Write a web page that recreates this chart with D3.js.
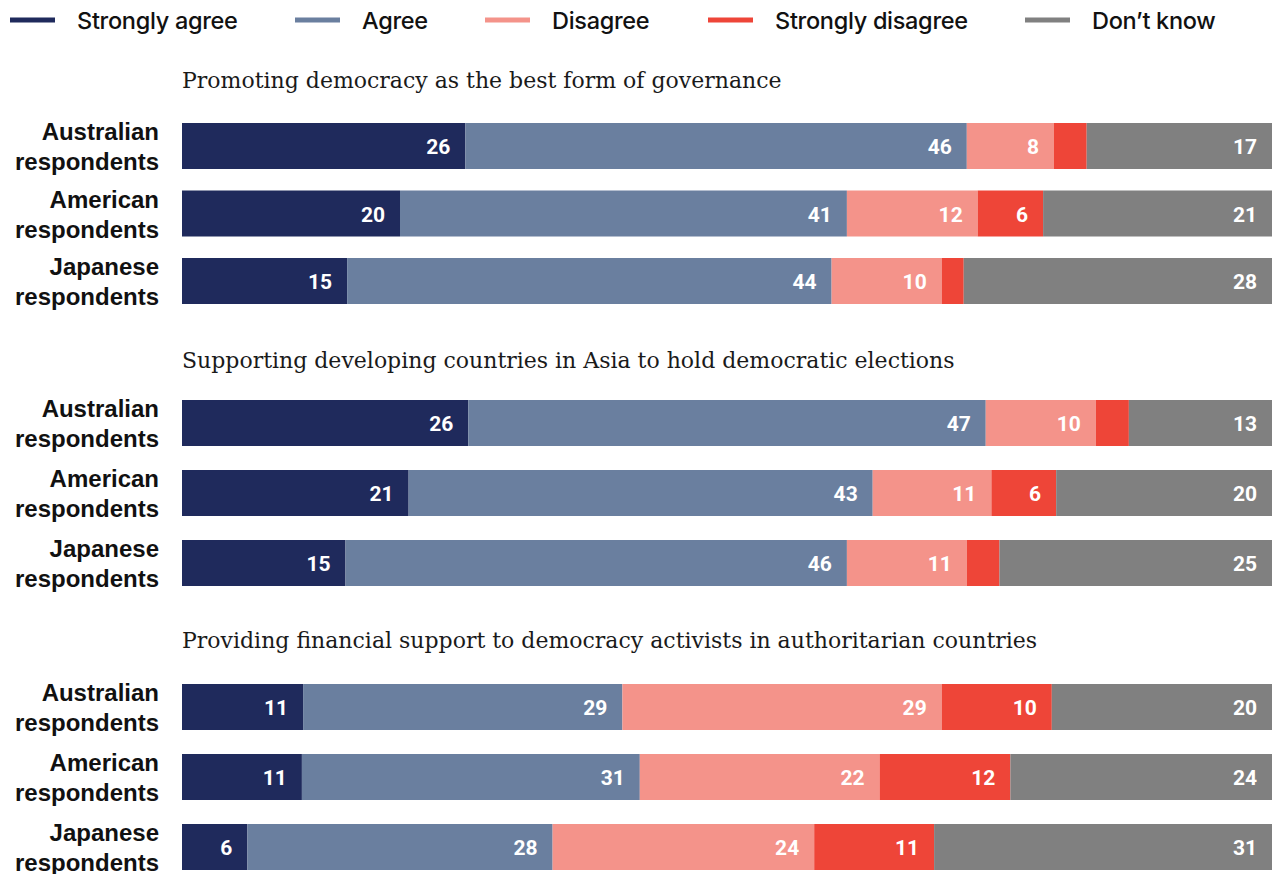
<!DOCTYPE html>
<html>
<head>
<meta charset="utf-8">
<script src="https://cdn.jsdelivr.net/npm/d3@7"></script>
<style>
  html, body { margin: 0; padding: 0; background: #ffffff; }
  svg { display: block; }
</style>
</head>
<body>
<svg id="chart" width="1279" height="874"></svg>
<script>
// ---- Data ----
const categories = ["Strongly agree", "Agree", "Disagree", "Strongly disagree", "Don\u2019t know"];
const seriesKeys = ["sa", "a", "d", "sd", "dk"];
const colors = ["#1f2a5c", "#6a7f9f", "#f4938a", "#ee4538", "#808080"];
const respondents = ["Australian respondents", "American respondents", "Japanese respondents"];
const panelTitles = [
  "Promoting democracy as the best form of governance",
  "Supporting developing countries in Asia to hold democratic elections",
  "Providing financial support to democracy activists in authoritarian countries"
];
// values per panel, per respondent group: [Strongly agree, Agree, Disagree, Strongly disagree, Don't know]
const panel1Values = [
  [26, 46, 8, 3, 17],
  [20, 41, 12, 6, 21],
  [15, 44, 10, 2, 28]
];
const panel2Values = [
  [26, 47, 10, 3, 13],
  [21, 43, 11, 6, 20],
  [15, 46, 11, 3, 25]
];
const panel3Values = [
  [11, 29, 29, 10, 20],
  [11, 31, 22, 12, 24],
  [6, 28, 24, 11, 31]
];
const panelValues = [panel1Values, panel2Values, panel3Values];
const minLabelValue = 5;

// ---- Layout ----
const svg = d3.select("#chart");
const x = d3.scaleLinear().domain([0, 1]).range([182, 1272]);
const color = d3.scaleOrdinal().domain(seriesKeys).range(colors);
const panelLayout = [
  { titleY: 88, y0: 123, y1: 304 },
  { titleY: 368, y0: 400, y1: 586 },
  { titleY: 648, y0: 684, y1: 870 }
];
const barH = 46;

// ---- Legend ----
const legendX = [10, 295, 485, 708, 1025];
const legend = svg.append("g");
categories.forEach((c, i) => {
  const g = legend.append("g").attr("transform", `translate(${legendX[i]},20)`);
  g.append("line").attr("x1", 0).attr("x2", 45).attr("y1", 0).attr("y2", 0)
    .attr("stroke", colors[i]).attr("stroke-width", 5);
  g.append("text").attr("x", 67).attr("y", 9)
    .attr("font-family", "Inter, Roboto, sans-serif")
    .attr("font-weight", 500).attr("font-size", 23.5).attr("fill", "#111")
    .attr("letter-spacing", -0.3)
    .text(c);
});

// ---- Panels ----
const stack = d3.stack().keys(seriesKeys).offset(d3.stackOffsetExpand);

panelValues.forEach((vals, pi) => {
  const L = panelLayout[pi];
  const rows = vals.map((v, ri) => {
    const o = { group: respondents[ri] };
    seriesKeys.forEach((k, ki) => o[k] = v[ki]);
    return o;
  });
  const span = L.y1 - L.y0;
  const step = (span - barH) / 2;
  const y = d3.scaleBand().domain(respondents).range([L.y0, L.y1])
    .paddingInner(1 - barH / step).paddingOuter(0);

  const g = svg.append("g");
  g.append("text").attr("x", 182).attr("y", L.titleY)
    .attr("font-family", "'DejaVu Serif', serif").attr("font-size", 22)
    .attr("fill", "#1a1a1a").text(panelTitles[pi]);

  // row labels
  respondents.forEach(r => {
    const words = r.split(" ");
    const cy = y(r) + y.bandwidth() / 2;
    const t = g.append("text").attr("text-anchor", "end")
      .attr("font-family", "'Liberation Sans', Arial, sans-serif")
      .attr("font-weight", 700).attr("font-size", 24).attr("fill", "#111");
    t.append("tspan").attr("x", 159).attr("y", cy - 6).text(words[0]);
    t.append("tspan").attr("x", 159).attr("y", cy + 24).text(words[1]);
  });

  const series = stack(rows);
  series.forEach((s, si) => {
    const sg = g.append("g").attr("fill", color(s.key));
    sg.selectAll("rect").data(s).join("rect")
      .attr("x", d => x(d[0]))
      .attr("width", d => x(d[1]) - x(d[0]))
      .attr("y", d => y(d.data.group))
      .attr("height", y.bandwidth());
    sg.selectAll("text").data(s.filter(d => d.data[s.key] >= minLabelValue)).join("text")
      .attr("x", d => x(d[1]) - 15)
      .attr("y", d => y(d.data.group) + y.bandwidth() / 2 + 1)
      .attr("text-anchor", "end").attr("dominant-baseline", "central")
      .attr("font-family", "Roboto, 'Liberation Sans', sans-serif")
      .attr("font-weight", 700).attr("font-size", 21).attr("fill", "#ffffff")
      .text(d => d.data[s.key]);
  });
});
</script>
</body>
</html>
